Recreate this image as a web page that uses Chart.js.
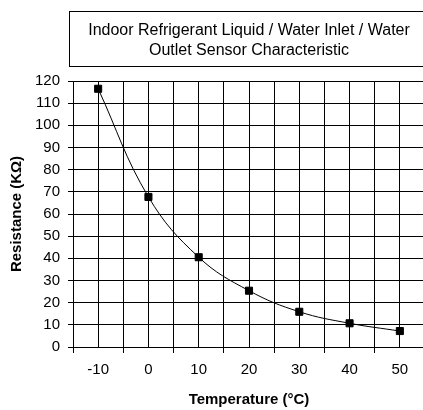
<!DOCTYPE html>
<html>
<head>
<meta charset="utf-8">
<script src="https://cdn.jsdelivr.net/npm/chart.js@4/dist/chart.umd.min.js"></script>
<style>
  html, body { margin: 0; padding: 0; background: #fff; overflow: hidden; }
  /* the original plot runs a couple of pixels past the right edge */
  #wrap { width: 425px; height: 410px; }
</style>
</head>
<body>
<div id="wrap"><canvas id="sensorChart"></canvas></div>
<script>
// Sensor characteristic
const temps = [-10, 0, 10, 20, 30, 40, 50];
const resistance = [116.5, 67.7, 40.5, 25.4, 15.9, 10.7, 7.2];
const titleLines = ['Indoor Refrigerant Liquid / Water Inlet / Water', 'Outlet Sensor Characteristic'];

const font = 'Liberation Sans, Arial, sans-serif';

// box around the title block (right side runs off the canvas, as in the original)
const titleBox = {
  id: 'titleBox',
  afterDraw(chart) {
    const t = chart.titleBlock;
    if (!t) return;
    const ctx = chart.ctx;
    ctx.save();
    ctx.strokeStyle = '#000';
    ctx.lineWidth = 1;
    ctx.strokeRect(Math.round(chart.chartArea.left - 4) + 0.5, Math.round(t.top) + 0.5,
      chart.width - chart.chartArea.left + 20, Math.round(t.height - 15));
    ctx.restore();
  }
};

new Chart(document.getElementById('sensorChart').getContext('2d'), {
  type: 'line',
  data: {
    datasets: [{
      data: temps.map((t, i) => ({ x: t, y: resistance[i] })),
      borderColor: '#000',
      borderWidth: 1,
      tension: 0.4,
      pointStyle: 'rect',
      pointRadius: 5,
      pointBackgroundColor: '#000',
      pointBorderColor: '#000',
      fill: false
    }]
  },
  plugins: [titleBox],
  options: {
    responsive: true,
    maintainAspectRatio: false,
    animation: false,
    layout: { autoPadding: false, padding: { top: 11, left: 0, right: 0, bottom: 0 } },
    plugins: {
      legend: { display: false },
      tooltip: { enabled: false },
      title: {
        display: true,
        fullSize: false,
        text: titleLines,
        color: '#000',
        font: { family: font, size: 16, weight: 'normal', lineHeight: 1.2 },
        padding: { top: 10.4, bottom: 21.2 }
      }
    },
    scales: {
      x: {
        type: 'linear',
        min: -15,
        max: 55,
        afterFit(axis) {
          axis.height = 63;
          axis.paddingLeft = 0;
          axis.paddingRight = 0;
        },
        ticks: {
          stepSize: 5,
          autoSkip: false,
          maxRotation: 0,
          padding: 8,
          color: '#000',
          font: { family: font, size: 15 },
          callback: v => (v % 10 === 0 ? String(v) : '')
        },
        grid: {
          color: '#000',
          lineWidth: 1,
          tickLength: 6,
          tickColor: ctx => (ctx.tick && ctx.tick.value % 10 === 0 ? 'rgba(0,0,0,0)' : '#000')
        },
        border: { color: '#000' },
        title: {
          display: true,
          text: 'Temperature (°C)',
          color: '#000',
          font: { family: font, size: 15, weight: 'bold' },
          padding: { top: 10, bottom: 1 }
        }
      },
      y: {
        min: 0,
        max: 120,
        afterFit(axis) { axis.width = 73; },
        ticks: {
          stepSize: 10,
          padding: 8,
          color: '#000',
          font: { family: font, size: 15 }
        },
        grid: { color: '#000', lineWidth: 1, tickLength: 5, tickColor: '#000' },
        border: { color: '#000' },
        title: {
          display: true,
          text: 'Resistance (KΩ)',
          color: '#000',
          font: { family: font, size: 15, weight: 'bold' },
          padding: { top: 8, bottom: 4 }
        }
      }
    }
  }
});
</script>
</body>
</html>
